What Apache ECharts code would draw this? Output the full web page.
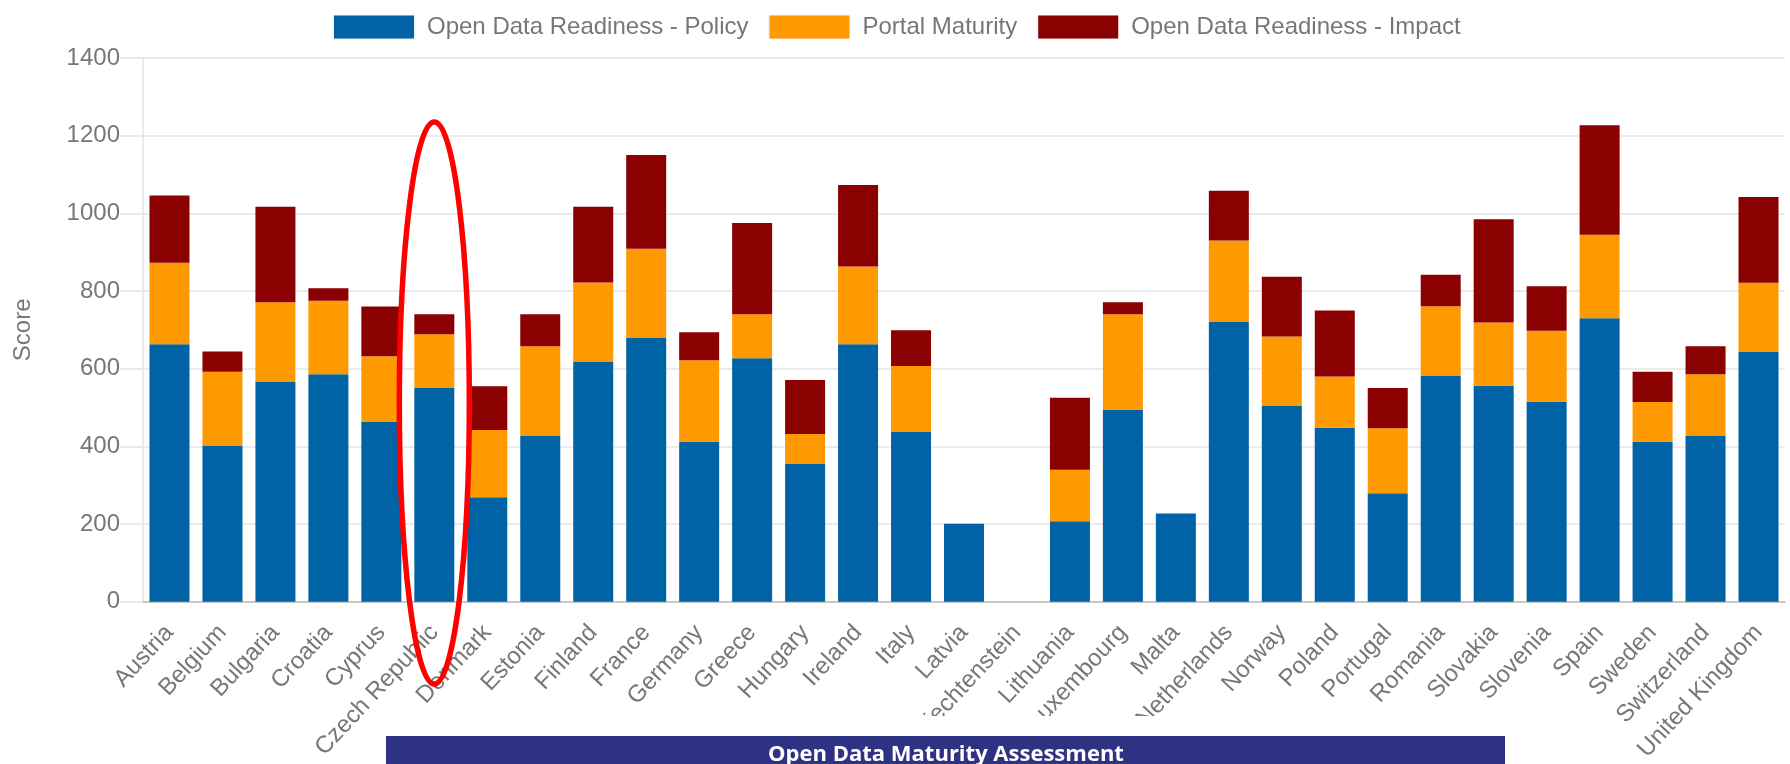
<!DOCTYPE html>
<html>
<head>
<meta charset="utf-8">
<script src="https://cdn.jsdelivr.net/npm/echarts@6/dist/echarts.min.js"></script>
<style>
html,body{margin:0;padding:0;background:#fff;}
#chart{width:1790px;height:764px;}
</style>
</head>
<body>
<div id="chart"></div>
<script>
const countries = ["Austria","Belgium","Bulgaria","Croatia","Cyprus","Czech Republic","Denmark","Estonia","Finland","France","Germany","Greece","Hungary","Ireland","Italy","Latvia","Liechtenstein","Lithuania","Luxembourg","Malta","Netherlands","Norway","Poland","Portugal","Romania","Slovakia","Slovenia","Spain","Sweden","Switzerland","United Kingdom"];
const policy = [663,402,566,586,463,550,269,428,617,679,412,627,356,663,438,201,null,207,494,227,720,504,448,279,581,556,515,730,412,428,643];
const portal = [210,190,205,189,169,139,173,230,205,230,210,113,76,200,169,0,null,133,246,0,210,179,132,168,180,163,183,215,102,158,178];
const impact = [173,52,246,32,128,51,113,82,195,241,72,235,139,210,92,0,null,185,31,0,128,154,170,103,81,266,114,282,78,72,221];
const seriesNames = ["Open Data Readiness - Policy","Portal Maturity","Open Data Readiness - Impact"];
const yTicks = [0,200,400,600,800,1000,1200,1400];
const highlighted = "Czech Republic";
const bannerTitle = "Open Data Maturity Assessment";
const yAxisName = "Score";

const colors = ["#0063a6","#ff9900","#8b0000"];
const textColor = "#777777";
const font = "'Liberation Sans', Arial, sans-serif";

const chart = echarts.init(document.getElementById('chart'), null, {renderer:'canvas'});
const mk = (name, data, i) => ({
  name: name, type: 'bar', stack: 'total', data: data, barWidth: 40,
  itemStyle: {color: colors[i]}, emphasis: {disabled: true}
});
chart.setOption({
  animation: false,
  textStyle: {fontFamily: font},
  legend: {
    left: 329, top: 10, itemWidth: 80, itemHeight: 23, itemGap: 21,
    icon: 'rect',
    itemStyle: {shadowBlur: 3, shadowColor: 'rgba(0,0,0,0.18)'},
    textStyle: {fontSize: 24, color: textColor, fontFamily: font, padding: [0,0,0,8]},
    data: seriesNames
  },
  grid: {left: 143, right: 5, top: 58, bottom: 160, containLabel: false},
  xAxis: {
    type: 'category', data: countries,
    axisLine: {lineStyle: {color: '#c8c8c8', width: 2}},
    axisTick: {show: false},
    axisLabel: {interval: 0, rotate: 47, fontSize: 24, color: textColor, fontFamily: font, margin: 27}
  },
  yAxis: {
    type: 'value', min: yTicks[0], max: yTicks[yTicks.length-1], interval: yTicks[1]-yTicks[0],
    name: yAxisName, nameLocation: 'middle', nameGap: 108,
    nameTextStyle: {fontSize: 24, color: textColor, fontFamily: font},
    axisLine: {show: true, lineStyle: {color: '#e4e4e4', width: 1.5}},
    axisTick: {show: true, length: 23, lineStyle: {color: '#e4e4e4', width: 1.5}},
    axisLabel: {fontSize: 24, color: textColor, fontFamily: font, margin: 23, formatter: v => String(v)},
    splitLine: {lineStyle: {color: '#e4e4e4', width: 1.5}}
  },
  series: [mk(seriesNames[0], policy, 0), mk(seriesNames[1], portal, 1), mk(seriesNames[2], impact, 2)]
});

const cx = chart.convertToPixel({xAxisIndex: 0}, highlighted);
chart.setOption({
  graphic: [
    {type: 'rect', z: 100, shape: {x: 386, y: 716, width: 1119, height: 20}, style: {fill: '#ffffff'}},
    {type: 'rect', z: 100, shape: {x: 386, y: 736, width: 1119, height: 28}, style: {fill: '#2e3282'}},
    {type: 'text', z: 101, x: 946, y: 755, style: {text: bannerTitle, fill: '#ffffff', font: "bold 22px 'Open Sans', sans-serif", textAlign: 'center', textVerticalAlign: 'middle'}},
    {type: 'ellipse', z: 102, shape: {cx: cx, cy: 403, rx: 35, ry: 281}, style: {fill: 'none', stroke: '#ff0000', lineWidth: 5.5}}
  ]
});
</script>
</body>
</html>
